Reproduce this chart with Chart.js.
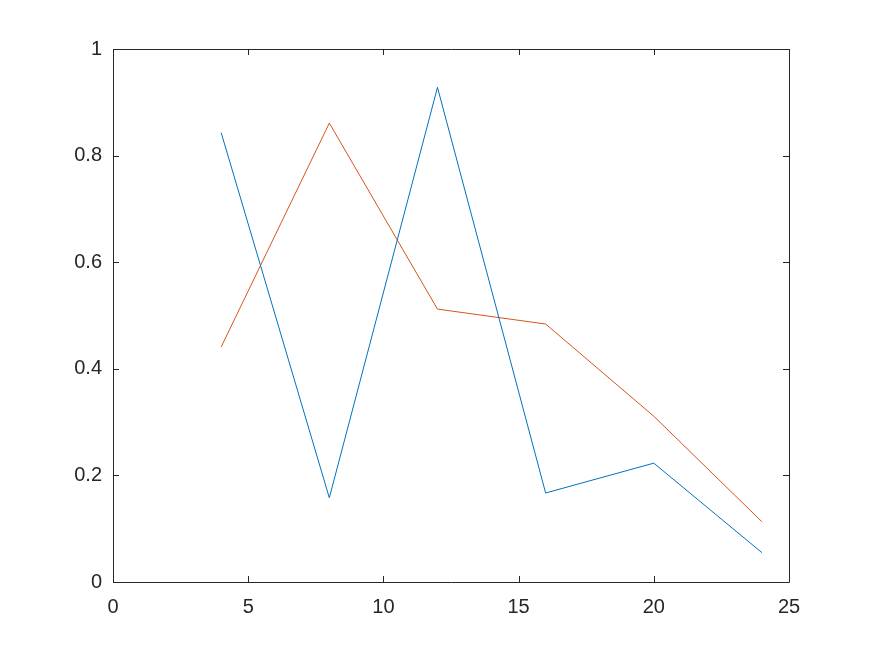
<!DOCTYPE html>
<html>
<head>
<meta charset="utf-8">
<script src="https://cdn.jsdelivr.net/npm/chart.js@4.4.0/dist/chart.umd.min.js"></script>
<style>
  html, body { margin: 0; padding: 0; background: #ffffff; }
  #wrap { width: 872px; height: 654px; }
</style>
</head>
<body>
<div id="wrap"><canvas id="myChart" width="872" height="654"></canvas></div>
<script>
// DATA
const xValues = [4, 8, 12, 16, 20, 24];
const blueValues = [0.843, 0.158, 0.928, 0.167, 0.223, 0.055];
const orangeValues = [0.441, 0.861, 0.512, 0.484, 0.311, 0.113];
const xTicks = [0, 5, 10, 15, 20, 25];
const yTicks = [0, 0.2, 0.4, 0.6, 0.8, 1];

const toPoints = (vals) => xValues.map((x, i) => ({ x: x, y: vals[i] }));

// box + inward ticks, octave style
const boxPlugin = {
    id: 'boxPlugin',
    afterDraw: (chart) => {
        const ctx = chart.ctx;
        const a = chart.chartArea;
        const xs = chart.scales.x;
        const ys = chart.scales.y;
        const len = 6;
        ctx.save();
        ctx.lineWidth = 1;
        ctx.strokeStyle = '#262626';
        ctx.beginPath();
        ctx.rect(Math.round(a.left) + 0.5, Math.round(a.top) + 0.5, Math.round(a.right - a.left), Math.round(a.bottom - a.top));
        ctx.stroke();
        ctx.beginPath();
        for (let i = 0; i < xTicks.length; i++) {
            let px = Math.round(xs.getPixelForValue(xTicks[i])) + 0.5;
            ctx.moveTo(px, a.bottom);
            ctx.lineTo(px, a.bottom - len);
            ctx.moveTo(px, a.top);
            ctx.lineTo(px, a.top + len);
        }
        for (let i = 0; i < yTicks.length; i++) {
            let py = Math.round(ys.getPixelForValue(yTicks[i])) + 0.5;
            ctx.moveTo(a.left, py);
            ctx.lineTo(a.left + len, py);
            ctx.moveTo(a.right, py);
            ctx.lineTo(a.right - len, py);
        }
        ctx.stroke();
        ctx.restore();
    }
};

const ctx = document.getElementById('myChart');

new Chart(ctx, {
    type: 'line',
    data: {
        datasets: [{
            data: toPoints(blueValues),
            borderColor: '#0072BD',
            borderWidth: 1,
            pointRadius: 0,
            tension: 0,
            fill: false
        }, {
            data: toPoints(orangeValues),
            borderColor: '#D95319',
            borderWidth: 1,
            pointRadius: 0,
            tension: 0,
            fill: false
        }]
    },
    options: {
        responsive: false,
        animation: false,
        devicePixelRatio: 1,
        layout: { padding: { top: 49, right: 83, left: 0, bottom: 0 } },
        plugins: {
            legend: { display: false },
            tooltip: { enabled: false }
        },
        scales: {
            x: {
                type: 'linear',
                min: 0,
                max: 25,
                afterFit: (scale) => { scale.height = 72; },
                afterBuildTicks: (scale) => { scale.ticks = xTicks.map(v => ({ value: v })); },
                grid: { display: false, drawTicks: false },
                border: { display: false },
                ticks: {
                    padding: 13,
                    color: '#262626',
                    font: { family: 'Liberation Sans, Arial, sans-serif', size: 20 },
                    maxRotation: 0
                }
            },
            y: {
                type: 'linear',
                min: 0,
                max: 1,
                afterFit: (scale) => { scale.width = 113; },
                afterBuildTicks: (scale) => { scale.ticks = yTicks.map(v => ({ value: v })); },
                grid: { display: false, drawTicks: false },
                border: { display: false },
                ticks: {
                    padding: 11,
                    color: '#262626',
                    font: { family: 'Liberation Sans, Arial, sans-serif', size: 20 },
                    callback: (v) => String(Math.round(v * 10) / 10)
                }
            }
        }
    },
    plugins: [boxPlugin]
});
</script>
</body>
</html>
